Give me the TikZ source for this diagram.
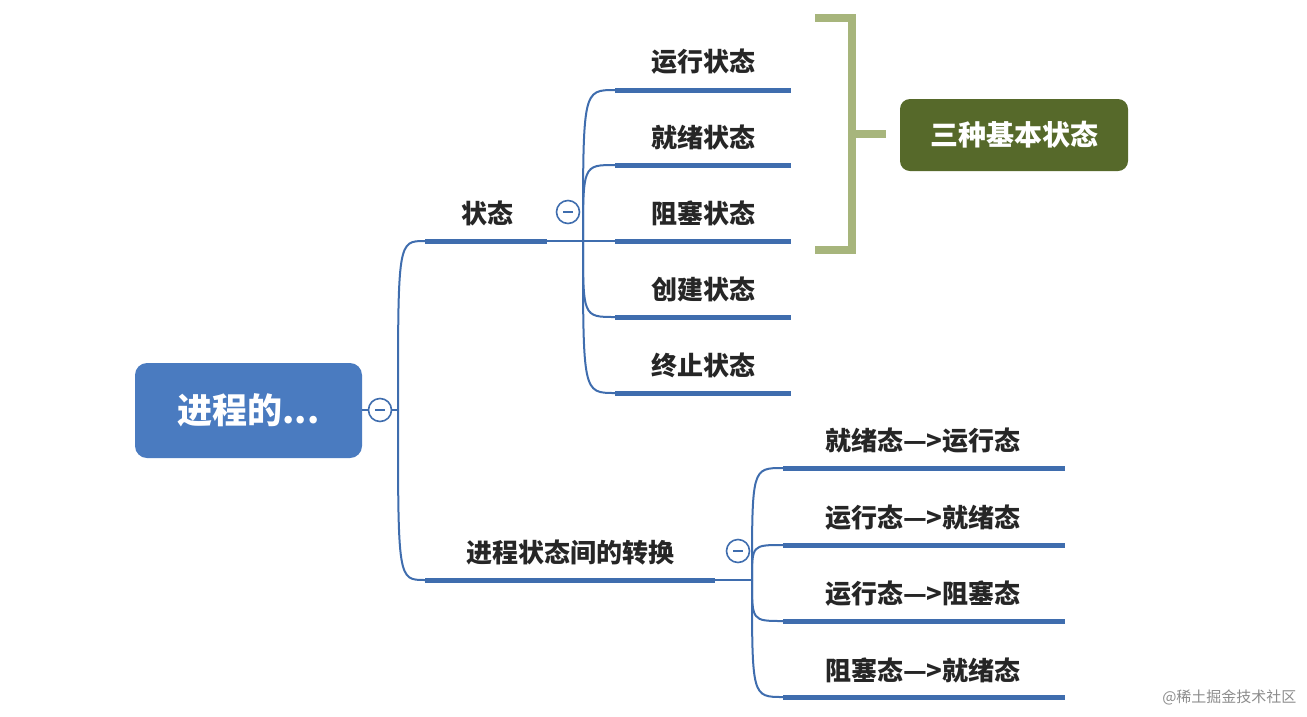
\documentclass[tikz,border=0pt]{standalone}
\usepackage{fontspec}
\setmainfont{Noto Sans CJK SC}
\definecolor{ln}{HTML}{3F6DAE}
\definecolor{br}{HTML}{A7B57C}
\definecolor{ol}{HTML}{56692A}
\definecolor{rt}{HTML}{4A7BC0}
\begin{document}
\begin{tikzpicture}[x=1pt,y=-1pt,
  lbl/.style={font=\fontsize{26}{28}\selectfont\bfseries, text=black!85, inner sep=0},
  lbl2/.style={font=\fontsize{26}{28}\selectfont\bfseries, text=black!85, inner sep=0},
  ul/.style={draw=ln, line width=5pt},
  br/.style={draw=ln, line width=2pt},
  col/.style={circle, draw=ln, line width=1.6pt, fill=white, minimum size=23pt, inner sep=0,
    path picture={\draw[ln,line width=1.6pt] ([xshift=-5pt]path picture bounding box.center) -- ([xshift=5pt]path picture bounding box.center);}}]
\useasboundingbox (0,0) rectangle (1307,716);
% root
\node[draw=none, fill=rt, rounded corners=12pt, minimum width=227pt, minimum height=95pt, text=white,
  font=\fontsize{35}{37}\selectfont\bfseries] (root) at (248.5,410.5) {进程的...};
% branch curves
\coordinate (rs) at (398,410);
\draw[br] (rs) .. controls (398,241) .. (425,241);
\draw[br] (rs) .. controls (398,580) .. (425,580);
\draw[br] (362,410) -- (rs);
\node[col] (c0) at (380,410) {};
% 状态
\draw[ul] (425,241) coordinate (s1) -- (547,241) coordinate (s2);
\node[lbl] (tz) at (487,213) {状态};
\draw[br] (s2) -- (583,241) coordinate (f1);
\node[col] (c1) at (568,212) {};
\foreach \y/\t/\n in {90/运行状态/a,165/就绪状态/b,241/阻塞状态/c,317/创建状态/d,393/终止状态/e}{
  \draw[br] (f1) .. controls (583,\y) .. (615,\y);
  \draw[ul] (615,\y) -- (791,\y);
  \node[lbl] (\n) at (703,\y-28) {\t};
}
% 转换
\draw[ul] (425,580) -- (715,580) coordinate (z2);
\node[lbl] (zh) at (570,553) {进程状态间的转换};
\draw[br] (z2) -- (752,580) coordinate (f2);
\node[col] (c2) at (738,551) {};
\foreach \y/\t/\n in {468/就绪态—>运行态/p,545/运行态—>就绪态/q,621/运行态—>阻塞态/r,697/阻塞态—>就绪态/s}{
  \draw[br] (f2) .. controls (752,\y) .. (783,\y);
  \draw[ul] (783,\y) -- (1065,\y);
  \node[lbl2] (\n) at (923,\y-27) {\t};
}
% bracket
\draw[draw=br, line width=8pt] (815,18) -- (852,18) -- (852,250) -- (815,250);
\draw[draw=br, line width=8pt] (852,134) -- (886,134);
\node[fill=ol, rounded corners=10pt, minimum width=228pt, minimum height=72pt, text=white,
  font=\fontsize{28}{30}\selectfont\bfseries] (box) at (1014,135) {三种基本状态};
\node[text=black!45, font=\fontsize{15}{17}\selectfont, anchor=east] (wm) at (1300,697) {@稀土掘金技术社区};
\end{tikzpicture}
\end{document}
